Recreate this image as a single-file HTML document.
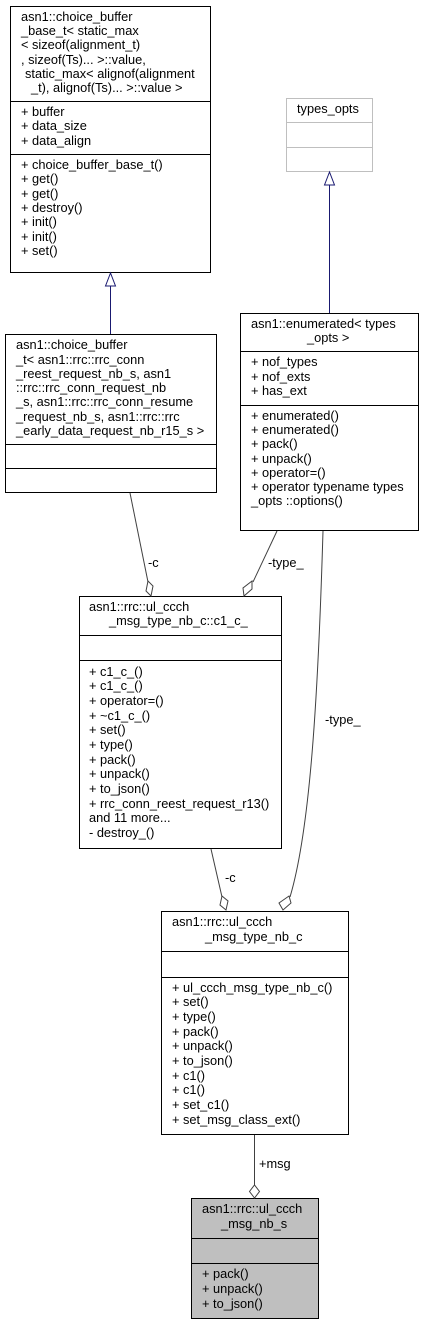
<!DOCTYPE html>
<html><head><style>
html,body{margin:0;padding:0;background:#fff;}
svg text{font-family:"Liberation Sans",sans-serif;font-size:12.8px;fill:#000;}
</style></head><body>
<svg width="424" height="1324" viewBox="0 0 424 1324" xmlns="http://www.w3.org/2000/svg">
<g fill="#fff" stroke="#000" stroke-width="1">
<rect x="10.5" y="6.5" width="200" height="266"/>
<line x1="10.5" y1="101.5" x2="210.5" y2="101.5"/>
<line x1="10.5" y1="154.5" x2="210.5" y2="154.5"/>
<rect x="286.5" y="98.5" width="86" height="73" stroke="#bfbfbf"/>
<line x1="286.5" y1="122.5" x2="372.5" y2="122.5" stroke="#bfbfbf"/>
<line x1="286.5" y1="147.5" x2="372.5" y2="147.5" stroke="#bfbfbf"/>
<rect x="5.5" y="334.5" width="211" height="158"/>
<line x1="5.5" y1="444.5" x2="216.5" y2="444.5"/>
<line x1="5.5" y1="468.5" x2="216.5" y2="468.5"/>
<rect x="240.5" y="313.5" width="178" height="217"/>
<line x1="240.5" y1="351.5" x2="418.5" y2="351.5"/>
<line x1="240.5" y1="405.5" x2="418.5" y2="405.5"/>
<rect x="79.5" y="596.5" width="202" height="252"/>
<line x1="79.5" y1="635.5" x2="281.5" y2="635.5"/>
<line x1="79.5" y1="660.5" x2="281.5" y2="660.5"/>
<rect x="161.5" y="911.5" width="187" height="223"/>
<line x1="161.5" y1="951.5" x2="348.5" y2="951.5"/>
<line x1="161.5" y1="977.5" x2="348.5" y2="977.5"/>
<rect x="191.5" y="1198.5" width="127" height="120" fill="#bfbfbf"/>
<line x1="191.5" y1="1238.5" x2="318.5" y2="1238.5"/>
<line x1="191.5" y1="1263.5" x2="318.5" y2="1263.5"/>
</g>
<g fill="none" stroke="#191970" stroke-width="1">
<line x1="110.5" y1="286" x2="110.5" y2="334"/>
<polygon points="110.5,273 105.5,286 115.5,286" fill="#fff"/>
<line x1="329.5" y1="185" x2="329.5" y2="313"/>
<polygon points="329.5,172 324.5,185 334.5,185" fill="#fff"/>
</g>
<g fill="none" stroke="#404040" stroke-width="1">
<line x1="130" y1="493" x2="148" y2="582"/>
<polygon points="151,596 146,591 148,581 153,586" fill="#fff"/>
<line x1="277" y1="531" x2="253" y2="582"/>
<polygon points="244,596 243,588 252,581 252,589" fill="#fff"/>
<path d="M323,531 C318,700 310,830 290,897"/>
<polygon points="283,910 279,903 289,896 291,903" fill="#fff"/>
<line x1="211" y1="849" x2="222" y2="897"/>
<polygon points="226,910 220,905 222,896 228,901" fill="#fff"/>
<line x1="254.5" y1="1135" x2="254.5" y2="1185"/>
<polygon points="254.5,1198 249.5,1191.5 254.5,1185 259.5,1191.5" fill="#fff"/>
</g>
<text x="21" y="21">asn1::choice_buffer</text>
<text x="21" y="35">_base_t&lt; static_max</text>
<text x="21" y="49">&lt; sizeof(alignment_t)</text>
<text x="21" y="64">, sizeof(Ts)... &gt;::value,</text>
<text x="25" y="78">static_max&lt; alignof(alignment</text>
<text x="31" y="92">_t), alignof(Ts)... &gt;::value &gt;</text>
<text x="21" y="116">+ buffer</text>
<text x="21" y="130">+ data_size</text>
<text x="21" y="145">+ data_align</text>
<text x="21" y="169">+ choice_buffer_base_t()</text>
<text x="21" y="183">+ get()</text>
<text x="21" y="198">+ get()</text>
<text x="21" y="212">+ destroy()</text>
<text x="21" y="226">+ init()</text>
<text x="21" y="241">+ init()</text>
<text x="21" y="255">+ set()</text>
<text x="297" y="113">types_opts</text>
<text x="16" y="349">asn1::choice_buffer</text>
<text x="16" y="364">_t&lt; asn1::rrc::rrc_conn</text>
<text x="16" y="378">_reest_request_nb_s, asn1</text>
<text x="16" y="392">::rrc::rrc_conn_request_nb</text>
<text x="16" y="406">_s, asn1::rrc::rrc_conn_resume</text>
<text x="16" y="421">_request_nb_s, asn1::rrc::rrc</text>
<text x="16" y="435">_early_data_request_nb_r15_s &gt;</text>
<text x="251" y="328">asn1::enumerated&lt; types</text>
<text x="307" y="342">_opts &gt;</text>
<text x="251" y="366">+ nof_types</text>
<text x="251" y="381">+ nof_exts</text>
<text x="251" y="395">+ has_ext</text>
<text x="251" y="420">+ enumerated()</text>
<text x="251" y="434">+ enumerated()</text>
<text x="251" y="448">+ pack()</text>
<text x="251" y="463">+ unpack()</text>
<text x="251" y="477">+ operator=()</text>
<text x="251" y="491">+ operator typename types</text>
<text x="251" y="505">_opts ::options()</text>
<text x="148" y="567">-c</text>
<text x="268" y="567">-type_</text>
<text x="325" y="724">-type_</text>
<text x="89" y="611">asn1::rrc::ul_ccch</text>
<text x="109" y="625">_msg_type_nb_c::c1_c_</text>
<text x="89" y="676">+ c1_c_()</text>
<text x="89" y="690">+ c1_c_()</text>
<text x="89" y="705">+ operator=()</text>
<text x="89" y="720">+ ~c1_c_()</text>
<text x="89" y="734">+ set()</text>
<text x="89" y="749">+ type()</text>
<text x="89" y="764">+ pack()</text>
<text x="89" y="778">+ unpack()</text>
<text x="89" y="793">+ to_json()</text>
<text x="89" y="808">+ rrc_conn_reest_request_r13()</text>
<text x="89" y="822">and 11 more...</text>
<text x="89" y="837">- destroy_()</text>
<text x="225" y="882">-c</text>
<text x="172" y="926">asn1::rrc::ul_ccch</text>
<text x="205" y="941">_msg_type_nb_c</text>
<text x="172" y="992">+ ul_ccch_msg_type_nb_c()</text>
<text x="172" y="1006">+ set()</text>
<text x="172" y="1021">+ type()</text>
<text x="172" y="1036">+ pack()</text>
<text x="172" y="1050">+ unpack()</text>
<text x="172" y="1065">+ to_json()</text>
<text x="172" y="1080">+ c1()</text>
<text x="172" y="1094">+ c1()</text>
<text x="172" y="1109">+ set_c1()</text>
<text x="172" y="1124">+ set_msg_class_ext()</text>
<text x="259" y="1168">+msg</text>
<text x="202" y="1213">asn1::rrc::ul_ccch</text>
<text x="221" y="1228">_msg_nb_s</text>
<text x="202" y="1278">+ pack()</text>
<text x="202" y="1293">+ unpack()</text>
<text x="202" y="1308">+ to_json()</text>
</svg>
</body></html>
